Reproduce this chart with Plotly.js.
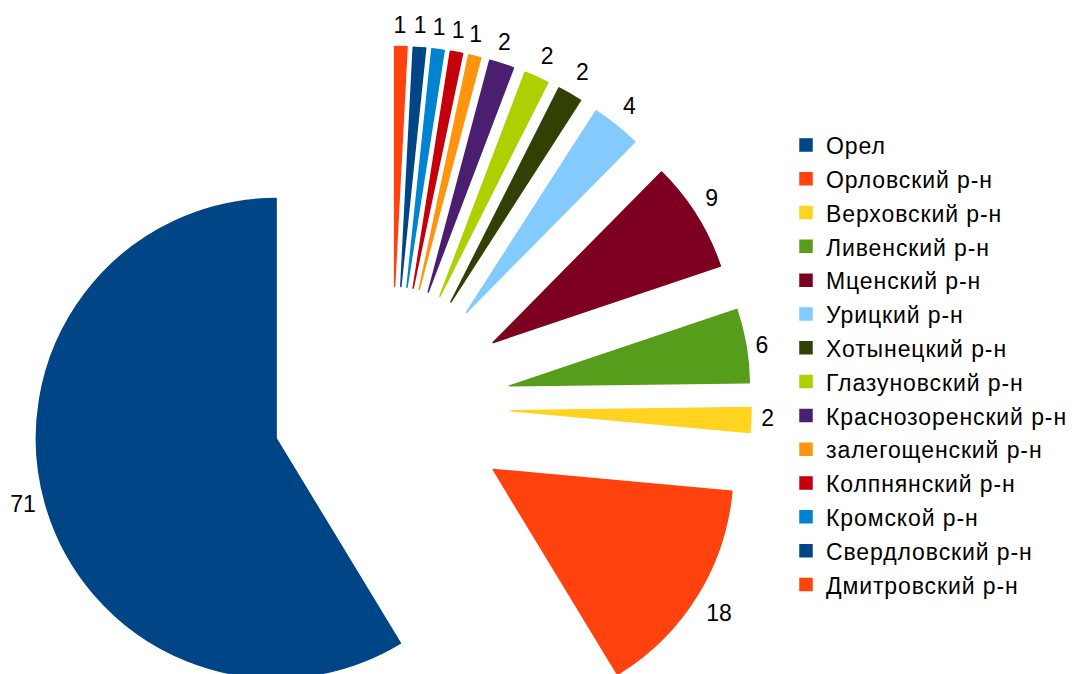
<!DOCTYPE html>
<html><head><meta charset="utf-8">
<script src="https://cdn.plot.ly/plotly-3.0.1.min.js"></script>
<style>
html,body{margin:0;padding:0;background:#fff;overflow:hidden;}
#wrap{width:1072px;height:674px;overflow:hidden;position:relative;}
#chart{width:1072px;height:800px;position:absolute;left:0;top:0;}
</style></head><body>
<div id="wrap"><div id="chart"></div></div>
<script>
// Data
const categories = ['Орел','Орловский р-н','Верховский р-н','Ливенский р-н','Мценский р-н','Урицкий р-н','Хотынецкий р-н','Глазуновский р-н','Краснозоренский р-н','залегощенский р-н','Колпнянский р-н','Кромской р-н','Свердловский р-н','Дмитровский р-н'];
const values = [71, 18, 2, 6, 9, 4, 2, 2, 2, 1, 1, 1, 1, 1];

// Style
const palette = ['#004586','#ff420e','#ffd320','#579d1c','#7e0021','#83caff','#314004','#aecf00','#4b1f6f','#ff950e','#c5000b','#0084d1','#004586','#ff420e'];
// value-label placement tweaks (px): radial padding and x/y nudges
const labelPad = [2, 12, 4, 3, 12, 10, 9, 9, 9, 9, 9, 9, 9, 9];
const labelDX  = [-1, -7, 0, 0, -8, -6, -5, -6, -13, -14, -13, -13, -13, -14];
const labelDY  = [0, 7, -2, 0, -8, -4, -4, -2, -1, -1, -1, -1, -1, 0];
const FONT = '"Liberation Sans", Arial, sans-serif';

// Geometry of the plot area (px)
const W = 1072, H = 800, MT = 20, MR = 288;
const PW = W - MR, PH = H - MT;
const CX = 392, CY = 406, HALF = 360; // pie box half-size -> radius 240 with pull 0.5
const PULL = 0.5;

function domainFor(half, dx, dy) {
  const cx = CX + dx, cy = CY + dy;
  return {
    x: [(cx - half) / PW, (cx + half) / PW],
    y: [1 - (cy - MT + half) / PH, 1 - (cy - MT - half) / PH]
  };
}

const total = values.reduce((a, b) => a + b, 0);
// Plotly's counterclockwise layout ends the first slice at `rotation`;
// shift so that the first slice starts at 12 o'clock going counterclockwise.
const rotation = 360 * (1 - values[0] / total);

const legendLabels = categories.map(c => '<span style="font-size:23px;letter-spacing:0.9px">' + c + '</span>');

const base = {
  type: 'pie',
  labels: legendLabels,
  values: values,
  sort: false,
  direction: 'counterclockwise',
  rotation: rotation,
  pull: PULL,
  textposition: 'none',
  marker: {colors: palette, line: {width: 1.5, color: palette}},
  hoverinfo: 'label+value',
  domain: domainFor(HALF, 0, 0)
};

// One transparent companion trace per value label so that labels are not
// stacked by Plotly's overlap avoidance.
const labelTraces = values.map((v, i) => ({
  type: 'pie',
  labels: legendLabels,
  values: values,
  sort: false,
  direction: 'counterclockwise',
  rotation: rotation,
  pull: PULL,
  textinfo: 'value',
  textposition: values.map((_, j) => j === i ? 'outside' : 'none'),
  textfont: {family: FONT, size: 23, color: '#000000'},
  marker: {colors: values.map(() => 'rgba(0,0,0,0)'), line: {width: 0}},
  hoverinfo: 'skip',
  showlegend: false,
  domain: domainFor(HALF + labelPad[i], labelDX[i], labelDY[i])
}));

const layout = {
  width: W,
  height: H,
  margin: {l: 0, r: MR, t: MT, b: 0},
  paper_bgcolor: '#ffffff',
  plot_bgcolor: '#ffffff',
  showlegend: true,
  legend: {
    x: 787 / PW, y: 1 - (123 - MT) / PH,
    xanchor: 'left', yanchor: 'top',
    font: {family: FONT, size: 23.7, color: '#000000'},
    bgcolor: 'rgba(0,0,0,0)',
    borderwidth: 0,
    traceorder: 'normal'
  },
  font: {family: FONT}
};

Plotly.newPlot('chart', [base].concat(labelTraces), layout, {displayModeBar: false, staticPlot: true});
</script>
</body></html>
